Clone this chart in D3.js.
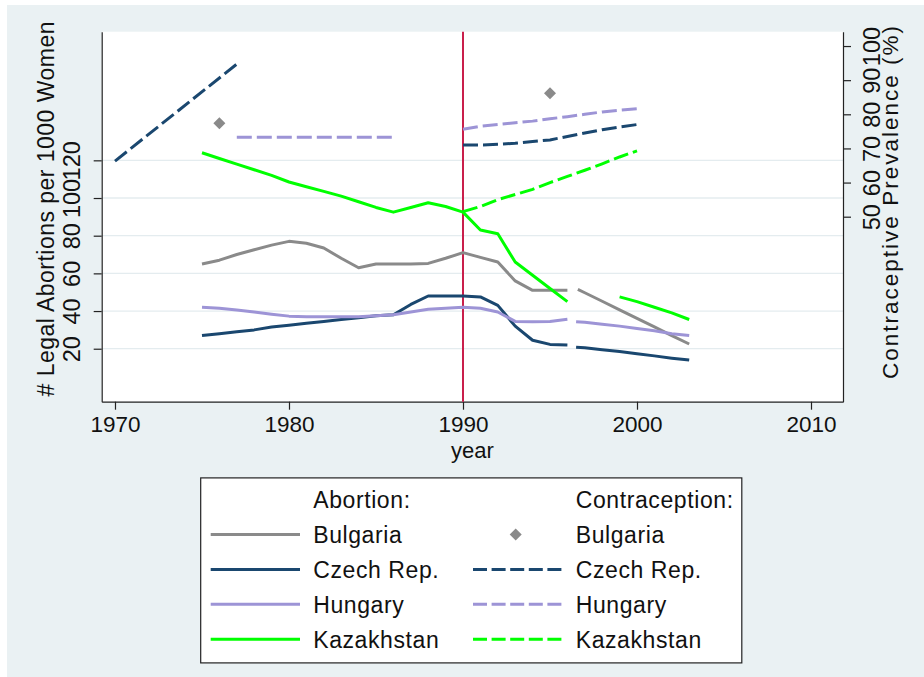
<!DOCTYPE html>
<html>
<head>
<meta charset="utf-8">
<script src="https://cdn.jsdelivr.net/npm/d3@7"></script>
<style>
  body { margin: 0; background: #fff; }
  text { font-family: "Liberation Sans", Arial, sans-serif; fill: #111; }
</style>
</head>
<body>
<script>
// Series data. null breaks a line.
const countries = ["Bulgaria", "Czech Rep.", "Hungary", "Kazakhstan"]
const colors = ["#8a8a8a", "#1a476f", "#9d94d6", "#00ff00"]

const bulgariaAbortion = [[1975, 65], [1976, 67], [1977, 70], [1978, 72.5], [1979, 75], [1980, 77],
  [1981, 76], [1982, 73.5], [1983, 68], [1984, 63], [1985, 65], [1986, 65], [1987, 65], [1988, 65.3],
  [1989, 68], [1990, 71], [1991, 68.5], [1992, 66], [1993, 56], [1994, 51], [1995, 51], [1996, 51],
  null, [1996.6, 51.5], [1997, 49.7], [1998, 45.2], [1999, 40.6], [2000, 36.1], [2001, 31.6], [2002, 27], [2003, 22.5]]
const czechAbortion = [[1975, 27], [1976, 28], [1977, 29], [1978, 30], [1979, 31.5], [1980, 32.5],
  [1981, 33.5], [1982, 34.5], [1983, 35.5], [1984, 36.5], [1985, 37.5], [1986, 38], [1987, 43.5],
  [1988, 48], [1989, 48], [1990, 48], [1991, 47.5], [1992, 43], [1993, 32], [1994, 24.5], [1995, 22.3], [1996, 22],
  null, [1996.5, 20.8], [1997, 20.5], [1998, 19.5], [1999, 18.5], [2000, 17.3], [2001, 16.2], [2002, 15], [2003, 14]]
const hungaryAbortion = [[1975, 42], [1976, 41.5], [1977, 40.5], [1978, 39.5], [1979, 38.3], [1980, 37.3],
  [1981, 37], [1982, 37], [1983, 37], [1984, 37], [1985, 37.5], [1986, 38], [1987, 39.5], [1988, 41],
  [1989, 41.5], [1990, 42], [1991, 41.5], [1992, 39.5], [1993, 34.5], [1994, 34.3], [1995, 34.5], [1996, 35.7],
  null, [1996.5, 34.3], [1997, 34], [1998, 33], [1999, 32], [2000, 30.7], [2001, 29.5], [2002, 28], [2003, 27]]
const kazakhAbortion = [[1975, 124], [1976, 121], [1977, 118], [1978, 115], [1979, 112], [1980, 108.5],
  [1981, 106], [1982, 103.5], [1983, 101], [1984, 98], [1985, 95], [1986, 92.5], [1987, 95], [1988, 97.5],
  [1989, 95.5], [1990, 92.5], [1991, 83], [1992, 81], [1993, 66], [1994, 59], [1995, 52], [1996, 45],
  null, [1999, 47.5], [2000, 45], [2001, 42], [2002, 39], [2003, 35.5]]

const bulgariaContra = [[1976, 77.4], [1995, 86.2]]
const czechContra = [[1970, 66.3], [1977, 94.7], null, [1990, 71], [1991, 71], [1992, 71.2], [1993, 71.5],
  [1994, 72], [1995, 72.5], [1996, 73.5], [1997, 74.5], [1998, 75.5], [1999, 76.3], [2000, 77]]
const hungaryContra = [[1977, 73.3], [1986, 73.3], null, [1990, 75.6], [1991, 76.5], [1992, 77], [1993, 77.5],
  [1994, 78], [1995, 78.7], [1996, 79.3], [1997, 80], [1998, 80.7], [1999, 81.2], [2000, 81.6]]
const kazakhContra = [[1990, 51.5], [1991, 53], [1992, 55], [1993, 56.5], [1994, 58], [1995, 60],
  [1996, 61.8], [1997, 63.6], [1998, 65.5], [1999, 67.5], [2000, 69.3]]

const xTicks = [1970, 1980, 1990, 2000, 2010]
const leftTicks = [20, 40, 60, 80, 100, 120]
const rightTicks = [50, 60, 70, 80, 90, 100]
const markYear = 1990

function main() {
    const width = 924, height = 677
    const left = 101.7, right = 843, top = 31.7, bottom = 401.7

    var svg = d3.select('body').append('svg')
        .attr('width', width)
        .attr('height', height)

    // Graph region and plot region.
    svg.append('rect').attr('x', 7).attr('y', 5)
        .attr('width', width - 7).attr('height', height - 5)
        .attr('fill', '#eaf1f3')
    svg.append('rect').attr('x', left).attr('y', top)
        .attr('width', right - left).attr('height', bottom - top)
        .attr('fill', '#fff')

    // Scales
    var x = d3.scaleLinear().domain([1969.236, 2011.839]).range([left, right])
    var yL = d3.scaleLinear().domain([-8.12, 188.28]).range([bottom, top])
    var yR = d3.scaleLinear().domain([-4.2, 104.2]).range([bottom, top])

    // Grid lines on the left axis ticks.
    svg.append('g').selectAll('line')
        .data(leftTicks)
        .enter().append('line')
        .attr('x1', left).attr('x2', right)
        .attr('y1', d => yL(d)).attr('y2', d => yL(d))
        .attr('stroke', '#e4ecef').attr('stroke-width', 1.3)

    // Axes
    var xAxis = svg.append('g')
        .attr('transform', `translate(0, ${bottom})`)
        .call(d3.axisBottom(x).tickValues(xTicks).tickSize(8).tickSizeOuter(0).tickFormat(d3.format('d')))
    xAxis.selectAll('text').attr('y', 30.5).attr('dy', 0)

    var leftAxis = svg.append('g')
        .attr('transform', `translate(${left}, 0)`)
        .call(d3.axisLeft(yL).tickValues(leftTicks).tickSize(8).tickSizeOuter(0))
    leftAxis.selectAll('text')
        .attr('transform', 'rotate(-90)')
        .attr('x', 0).attr('y', -21.7).attr('dy', 0)
        .attr('text-anchor', 'middle')

    var rightAxis = svg.append('g')
        .attr('transform', `translate(${right}, 0)`)
        .call(d3.axisRight(yR).tickValues(rightTicks).tickSize(8).tickSizeOuter(0))
    rightAxis.selectAll('text')
        .attr('transform', 'rotate(-90)')
        .attr('x', 0).attr('y', 37).attr('dy', 0)
        .attr('text-anchor', 'middle')

    svg.selectAll('.domain, .tick line').attr('stroke', '#222').attr('stroke-width', 1.2)
    svg.selectAll('.tick text').attr('font-size', 23.5).attr('font-family', null).attr('fill', '#111')
    xAxis.selectAll('text').attr('font-size', 22.5)

    // Axis titles.
    svg.append('text')
        .attr('transform', 'translate(54, 209) rotate(-90)')
        .attr('text-anchor', 'middle').attr('font-size', 23)
        .attr('textLength', 375).attr('lengthAdjust', 'spacing')
        .text('# Legal Abortions per 1000 Women')
    svg.append('text')
        .attr('transform', 'translate(898, 202.5) rotate(-90)')
        .attr('text-anchor', 'middle').attr('font-size', 22.5)
        .attr('textLength', 353).attr('lengthAdjust', 'spacing')
        .text('Contraceptive Prevalence (%)')
    svg.append('text')
        .attr('x', (left + right) / 2).attr('y', 458)
        .attr('text-anchor', 'middle').attr('font-size', 22)
        .text('year')

    // Reference line at 1990.
    svg.append('line')
        .attr('x1', x(markYear)).attr('x2', x(markYear))
        .attr('y1', top).attr('y2', bottom)
        .attr('stroke', '#c91f4b').attr('stroke-width', 2)

    // Lines
    var lineL = d3.line().defined(d => d !== null).x(d => x(d[0])).y(d => yL(d[1]))
    var lineR = d3.line().defined(d => d !== null).x(d => x(d[0])).y(d => yR(d[1]))

    var abortion = [bulgariaAbortion, czechAbortion, hungaryAbortion, kazakhAbortion]
    var contra = [czechContra, hungaryContra, kazakhContra]

    svg.append('g').selectAll('path')
        .data(contra)
        .enter().append('path')
        .attr('d', lineR)
        .attr('fill', 'none')
        .attr('stroke', (d, i) => colors[i + 1])
        .attr('stroke-width', 3)
        .attr('stroke-dasharray', '15,5')

    svg.append('g').selectAll('path')
        .data(abortion)
        .enter().append('path')
        .attr('d', lineL)
        .attr('fill', 'none')
        .attr('stroke', (d, i) => colors[i])
        .attr('stroke-width', 3)
        .attr('stroke-linejoin', 'round')

    var diamond = d3.symbol().type(d3.symbolSquare).size(72)
    svg.append('g').selectAll('path')
        .data(bulgariaContra)
        .enter().append('path')
        .attr('d', diamond)
        .attr('transform', d => `translate(${x(d[0])},${yR(d[1])}) rotate(45)`)
        .attr('fill', colors[0])

    // Legend
    var lg = svg.append('g')
    lg.append('rect').attr('x', 200.7).attr('y', 477.9)
        .attr('width', 541.1).attr('height', 185)
        .attr('fill', '#fff').attr('stroke', '#222').attr('stroke-width', 1.2)

    const rowY = i => 534.5 + i * 34.9
    lg.append('text').attr('x', 313.2).attr('y', rowY(-1) + 8.5)
        .attr('font-size', 23).attr('letter-spacing', 0.6).text('Abortion:')
    lg.append('text').attr('x', 575.7).attr('y', rowY(-1) + 8.5)
        .attr('font-size', 23).attr('letter-spacing', 0.6).text('Contraception:')

    var row = lg.selectAll('g.row')
        .data(countries)
        .enter().append('g').attr('class', 'row')
        .attr('transform', (d, i) => `translate(0, ${rowY(i)})`)

    row.append('line')
        .attr('x1', 210.7).attr('x2', 300).attr('y1', 0).attr('y2', 0)
        .attr('stroke', (d, i) => colors[i]).attr('stroke-width', 3)
    row.append('text').attr('x', 313.2).attr('y', 8.5)
        .attr('font-size', 23).attr('letter-spacing', 0.6).text(d => d)
    row.filter((d, i) => i > 0).append('line')
        .attr('x1', 473).attr('x2', 561.4).attr('y1', 0).attr('y2', 0)
        .attr('stroke', d => colors[countries.indexOf(d)]).attr('stroke-width', 3)
        .attr('stroke-dasharray', '14,4.6')
    row.filter((d, i) => i === 0).append('path')
        .attr('d', diamond)
        .attr('transform', 'translate(515.7, 0) rotate(45)')
        .attr('fill', colors[0])
    row.append('text').attr('x', 575.7).attr('y', 8.5)
        .attr('font-size', 23).attr('letter-spacing', 0.6).text(d => d)
}
main()
</script>
</body>
</html>
